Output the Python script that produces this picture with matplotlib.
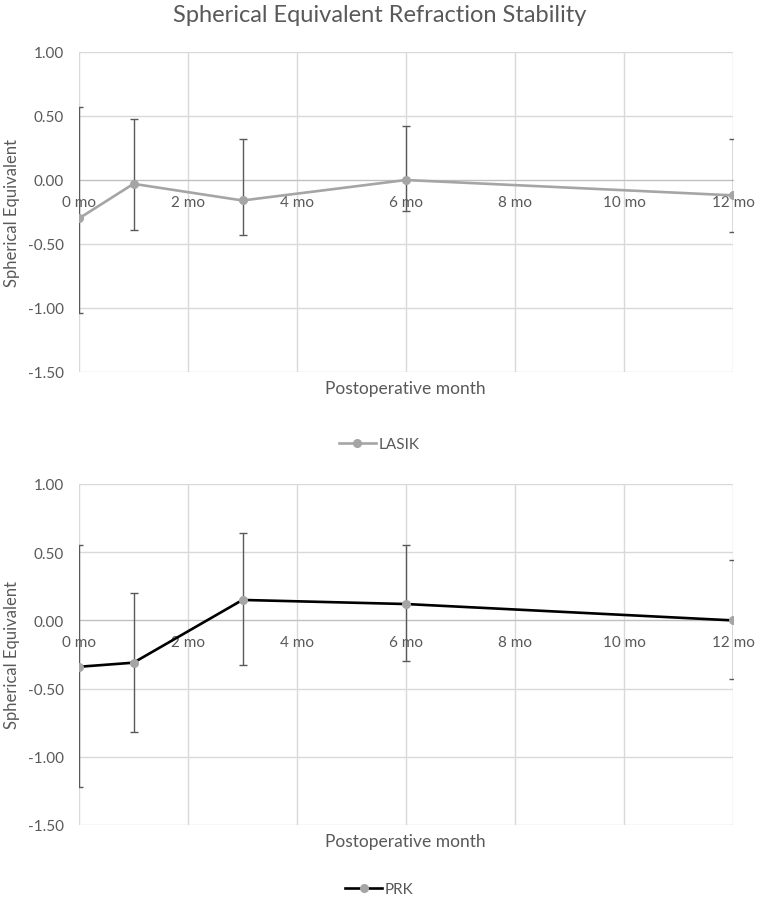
import matplotlib
matplotlib.use('Agg')
import matplotlib.pyplot as plt
import numpy as np

plt.rcParams['font.family'] = ['Lato', 'DejaVu Sans']

months = [0, 1, 3, 6, 12]
tick_months = [0, 2, 4, 6, 8, 10, 12]
tick_labels = ['0 mo', '2 mo', '4 mo', '6 mo', '8 mo', '10 mo', '12 mo']
y_ticks = [1.0, 0.5, 0.0, -0.5, -1.0, -1.5]

# LASIK mean with error bar ends
lasik_mean = [-0.30, -0.03, -0.16, 0.00, -0.12]
lasik_high = [0.57, 0.48, 0.32, 0.42, 0.32]
lasik_low = [-1.04, -0.39, -0.43, -0.24, -0.41]

# PRK
prk_mean = [-0.34, -0.31, 0.15, 0.12, 0.00]
prk_high = [0.55, 0.20, 0.64, 0.55, 0.44]
prk_low = [-1.22, -0.82, -0.33, -0.30, -0.43]

text_col = '#595959'
grid_col = '#d9d9d9'
marker_col = '#a5a5a5'

fig = plt.figure(figsize=(7.59, 9.03), dpi=100)

fig.text(0.5, 1 - 16 / 903, 'Spherical Equivalent Refraction Stability',
         ha='center', va='center', fontsize=17, color=text_col)


def draw_panel(rect, mean, low, high, line_col, name, xlab_y, leg_y):
    ax = fig.add_axes(rect)
    mean = np.array(mean)
    err = [mean - np.array(low), np.array(high) - mean]
    ax.errorbar(months, mean, yerr=err, fmt='none', ecolor='#595959',
                elinewidth=1, capsize=2.8, capthick=1, zorder=3)
    line, = ax.plot(months, mean, color=line_col, lw=1.9, marker='o', ms=5.5,
                    mfc=marker_col, mec=marker_col, zorder=4)
    ax.set_xlim(0, 12)
    ax.set_ylim(-1.5, 1.0)
    ax.set_xticks(tick_months)
    ax.set_xticklabels(tick_labels)
    ax.set_yticks(y_ticks)
    ax.set_yticklabels(['%.2f' % v for v in y_ticks])
    ax.grid(True, color=grid_col, lw=1)
    for s in ['top', 'left', 'right']:
        ax.spines[s].set_visible(False)
    ax.spines['bottom'].set_position(('data', 0))
    ax.spines['bottom'].set_color('#bfbfbf')
    ax.tick_params(axis='x', length=0, pad=10.5, labelsize=11, colors=text_col)
    ax.tick_params(axis='y', length=0, pad=11, labelsize=11, colors=text_col)
    ax.set_ylabel('Spherical Equivalent', fontsize=12, color=text_col)
    ax.yaxis.set_label_coords((20 - 79) / 654, 0.5)
    fig.text(405 / 759, 1 - xlab_y / 903, 'Postoperative month', ha='center',
             va='center', fontsize=12.5, color=text_col)
    fig.legend(handles=[line], labels=[name], loc='center',
               bbox_to_anchor=(0.5, 1 - leg_y / 903), frameon=False,
               fontsize=11, labelcolor=text_col, handlelength=2.4,
               handletextpad=0.2)
    return ax


draw_panel([79 / 759, 1 - 373 / 903, 654 / 759, 320 / 903],
           lasik_mean, lasik_low, lasik_high, marker_col, 'LASIK', 389, 445)
draw_panel([79 / 759, 1 - 826 / 903, 654 / 759, 341 / 903],
           prk_mean, prk_low, prk_high, '#000000', 'PRK', 842, 890)

fig.savefig('out.png', dpi=100)
